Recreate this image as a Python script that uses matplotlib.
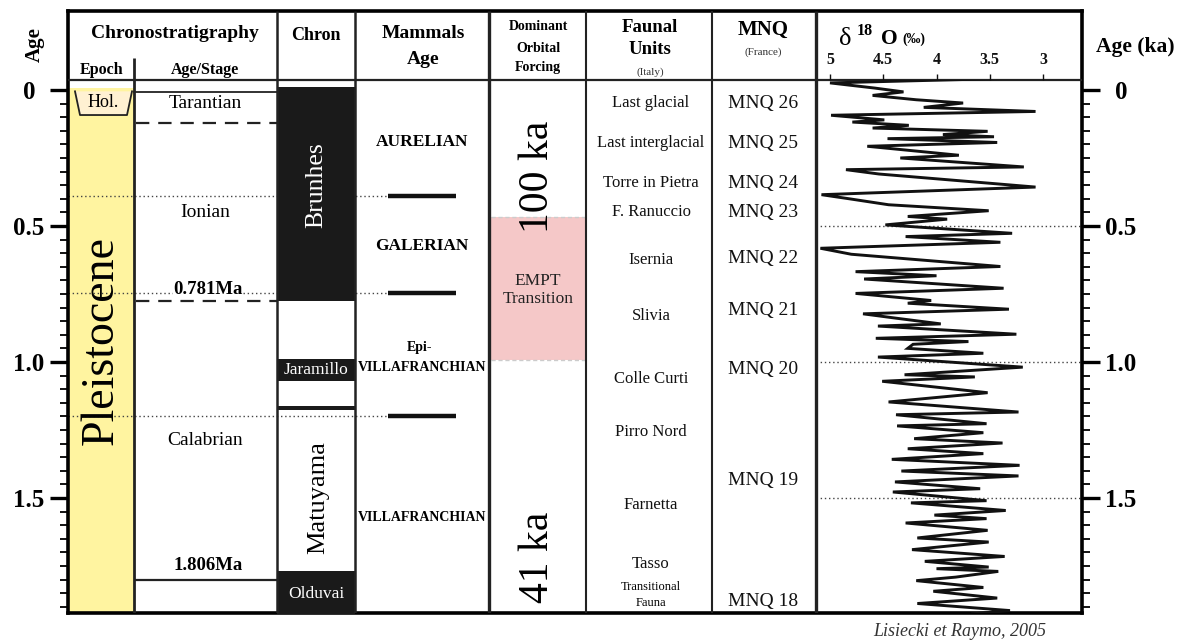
import numpy as np
import matplotlib
matplotlib.use("Agg")
import matplotlib.pyplot as plt
from matplotlib.ticker import FixedLocator, NullLocator

plt.rcParams['font.family'] = ['Liberation Serif', 'DejaVu Serif']

# ---------------- data (ages in Ma) ----------------
age_major = [0.0, 0.5, 1.0, 1.5]
age_major_labels = ["0", "0.5", "1.0", "1.5"]

stage_names = ["Tarantian", "Ionian", "Calabrian"]
stage_label_age = [0.05, 0.45, 1.29]
stage_bounds = [0.12, 0.775, 1.80]
stage_bound_styles = ["dashed", "dashed", "solid"]
bound_labels = ["0.781Ma", "1.806Ma"]
bound_label_age = [0.735, 1.75]

chron_tops = [-0.01, 0.99, 1.163, 1.77]
chron_bases = [0.775, 1.07, 1.175, 1.93]
chron_names = ["Brunhes", "Jaramillo", "Olduvai"]
chron_label_age = [0.35, 1.03, 1.853]
reversed_name = "Matuyama"
reversed_label_age = 1.50

correl_ages = [0.39, 0.745, 1.20]
mammal_names = ["AURELIAN", "GALERIAN", "VILLAFRANCHIAN", "VILLAFRANCHIAN"]
mammal_label_age = [0.19, 0.574, 1.022, 1.57]

empt_top, empt_base = 0.467, 0.993
forcing_names = ["100 ka", "41 ka"]
forcing_label_age = [0.32, 1.717]

faunal_names = ["Last glacial", "Last interglacial", "Torre in Pietra", "F. Ranuccio",
                "Isernia", "Slivia", "Colle Curti", "Pirro Nord", "Farnetta", "Tasso"]
faunal_age = [0.048, 0.195, 0.342, 0.449, 0.625, 0.831, 1.062, 1.257, 1.526, 1.743]

mnq_names = ["MNQ 26", "MNQ 25", "MNQ 24", "MNQ 23", "MNQ 22", "MNQ 21", "MNQ 20", "MNQ 19", "MNQ 18"]
mnq_age = [0.048, 0.195, 0.342, 0.449, 0.618, 0.8125, 1.026, 1.4375, 1.879]

d18o_ticks = [5, 4.5, 4, 3.5, 3]
d18o_tick_labels = ["5", "4.5", "4", "3.5", "3"]

lr04_age = [0.000, 0.018, 0.037, 0.051, 0.064, 0.080, 0.092, 0.108, 0.123, 0.137,
            0.154, 0.162, 0.174, 0.184, 0.196, 0.208, 0.216, 0.223, 0.237, 0.251,
            0.284, 0.294, 0.327, 0.337, 0.353, 0.401, 0.429, 0.444, 0.466, 0.488,
            0.509, 0.519, 0.540, 0.571, 0.583, 0.604, 0.626, 0.648, 0.693, 0.712,
            0.727, 0.739, 0.773, 0.792, 0.818, 0.828, 0.850, 0.867, 0.883, 0.904,
            0.912, 0.942, 0.957, 0.969, 0.979, 0.994, 1.012, 1.026, 1.063, 1.091,
            1.099, 1.115, 1.157, 1.191, 1.228, 1.238, 1.271, 1.279, 1.304, 1.326,
            1.342, 1.363, 1.381, 1.402, 1.424, 1.445, 1.463, 1.485, 1.510, 1.522,
            1.554, 1.562, 1.590, 1.607, 1.620, 1.636, 1.663, 1.691, 1.706, 1.734,
            1.759, 1.777, 1.798, 1.804, 1.814, 1.835, 1.848, 1.873, 1.887, 1.912,
            1.932, 1.958, 1.970]
lr04_d18o = [3.19, 5.00, 4.58, 4.31, 4.60, 4.19, 3.75, 4.12, 3.07, 4.99,
             4.49, 4.79, 4.26, 4.60, 3.52, 3.94, 3.46, 4.46, 3.43, 4.65,
             3.79, 4.34, 3.18, 4.85, 4.54, 3.07, 5.08, 4.82, 4.45, 3.51,
             4.27, 3.90, 4.48, 3.29, 4.29, 3.40, 5.09, 4.80, 3.40, 4.76,
             4.00, 4.68, 3.37, 4.76, 4.05, 4.27, 3.32, 4.69, 4.38, 3.96,
             4.55, 3.25, 4.57, 3.70, 4.22, 4.27, 3.56, 4.55, 3.19, 4.30,
             3.64, 4.51, 3.52, 4.45, 3.23, 4.38, 3.53, 4.37, 3.56, 4.21,
             3.38, 4.27, 3.56, 4.42, 3.22, 4.33, 3.23, 4.39, 3.59, 4.41,
             3.53, 4.24, 3.35, 4.02, 3.53, 4.29, 3.52, 4.18, 3.51, 4.23,
             3.36, 4.11, 3.51, 4.00, 3.42, 3.82, 4.19, 3.56, 4.03, 3.43,
             4.18, 3.31, 3.66]

# ---------------- layout (pixels) ----------------
W, H = 1195, 641
FX0, FX1, FY0, FY1 = 68, 1082, 11, 613
HDR_Y = 80
AGE0_PX, PX_PER_MA = 90.0, 272.0
def age_at(py):
    return (py - AGE0_PX) / PX_PER_MA

C_EPOCH, C_STAGE, C_CHRON, C_MAMM, C_ORB, C_FAUN, C_MNQ, C_D18 = 134, 277, 355, 489, 586, 712, 816, FX1

fig = plt.figure(figsize=(W / 100, H / 100), dpi=100)
ax = fig.add_axes([FX0 / W, 1 - FY1 / H, (FX1 - FX0) / W, (FY1 - FY0) / H])
ax.set_xlim(FX0, FX1)
ax.set_ylim(age_at(FY1), age_at(FY0))
for s in ax.spines.values():
    s.set_linewidth(2.6)
ax.xaxis.set_major_locator(NullLocator())

# age axis ticks (both sides)
ax.yaxis.set_major_locator(FixedLocator(age_major))
ax.set_yticklabels(age_major_labels)
ax.yaxis.set_minor_locator(FixedLocator(np.round(np.arange(0, 1.91, 0.05), 2)))
ax.tick_params(axis='y', which='major', left=True, right=True, labelleft=True, labelright=True,
               length=13, width=2.4, labelsize=18, pad=17, direction='out')
ax.tick_params(axis='y', which='minor', left=True, right=True, length=6, width=1.3, direction='out')
for lab in ax.get_yticklabels():
    lab.set_fontweight('bold')
    lab.set_horizontalalignment('center')
for t in ax.yaxis.get_major_ticks():
    t.label2.set_fontweight('bold')
    t.label2.set_horizontalalignment('center')
    t.label2.set_fontsize(18)
    t.set_pad(15)

bottom = age_at(FY1)
top = age_at(FY0)
hdr = age_at(HDR_Y)

# Epoch column (yellow)
ax.fill_between([FX0, C_EPOCH], -0.008, bottom, color='#FFF4A0', zorder=1, lw=0)
hol_base = 0.092
ax.fill([75, 80, 127, 132], [0.005, hol_base, hol_base, 0.005], color='#FFF1D2', zorder=2, lw=0)
ax.plot([75, 80, 127, 132], [0.005, hol_base, hol_base, 0.005], color='#222', lw=1.3, zorder=3)
ax.text(103, 0.045, "Hol.", ha='center', va='center', fontsize=13, zorder=4)
ax.text(101, 0.92, "Pleistocene", rotation=90, ha='center', va='center', fontsize=33, zorder=4)

# Age / stage column
ax.plot([C_EPOCH, C_STAGE], [0.006, 0.006], color='#222', lw=1.3, zorder=3)
for b, st in zip(stage_bounds, stage_bound_styles):
    ls = (0, (6, 4)) if st == 'dashed' else '-'
    ax.plot([C_EPOCH + 2, C_STAGE], [b, b], color='#222', lw=1.6, ls=ls, zorder=3)
for nm, a in zip(stage_names, stage_label_age):
    ax.text(205, a, nm, ha='center', va='center', fontsize=14, zorder=4)

# correlation dotted lines
for a in correl_ages:
    ax.plot([FX0, 388], [a, a], color='#444', lw=1.0, ls=(0, (1, 2)), zorder=2)
for nm, a in zip(bound_labels, bound_label_age):
    ax.text(208, a, nm, ha='center', va='center', fontsize=13.5, fontweight='bold', zorder=5,
            bbox=dict(facecolor='white', edgecolor='none', pad=0.5) if nm == "0.781Ma" else None)

# Chron column
for t0, b0 in zip(chron_tops, chron_bases):
    ax.fill_between([C_STAGE, C_CHRON], t0, b0, color='#1a1a1a', zorder=3, lw=0)
ax.text(316, chron_label_age[0], chron_names[0], rotation=90, ha='center', va='center',
        color='white', fontsize=18.5, zorder=5)
ax.text(316, chron_label_age[1], chron_names[1], ha='center', va='center',
        color='white', fontsize=12.5, zorder=5)
ax.text(316, chron_label_age[2], chron_names[2], ha='center', va='center',
        color='white', fontsize=12.5, zorder=5)
ax.text(318, reversed_label_age, reversed_name, rotation=90, ha='center', va='center',
        color='black', fontsize=19, zorder=5)

# Mammal ages
for a in correl_ages:
    ax.plot([388, 456], [a, a], color='#111', lw=3.2, solid_capstyle='butt', zorder=4)
mfs = [12.5, 12.5, 10, 10]
for nm, a, fs in zip(mammal_names, mammal_label_age, mfs):
    ax.text(422, a, nm, ha='center', va='center', fontsize=fs, fontweight='bold', zorder=4)
ax.text(420, age_at(348), "Epi-", ha='center', va='center', fontsize=10, fontweight='bold', zorder=4)

# Dominant orbital forcing
ax.fill_between([C_MAMM + 2, C_ORB - 1], empt_top, empt_base, color='#F5C8C8', zorder=1, lw=0)
for a in (empt_top, empt_base):
    ax.plot([C_MAMM + 2, C_ORB - 1], [a, a], color='#cccccc', lw=1.0, ls=(0, (3, 2)), zorder=2)
ax.text(538, 0.735, "EMPT\nTransition", ha='center', va='center', fontsize=12.5,
        linespacing=1.1, color='#222', zorder=4)
for nm, a in zip(forcing_names, forcing_label_age):
    ax.text(538, a, nm, rotation=90, ha='center', va='center', fontsize=30, zorder=4)

# Faunal units
for nm, a in zip(faunal_names, faunal_age):
    ax.text(651, a, nm, ha='center', va='center', fontsize=12, color='#111', zorder=4)
ax.text(651, age_at(587), "Transitional", ha='center', va='center', fontsize=9, zorder=4)
ax.text(651, age_at(603), "Fauna", ha='center', va='center', fontsize=9, zorder=4)

# MNQ
for nm, a in zip(mnq_names, mnq_age):
    ax.text(763, a, nm, ha='center', va='center', fontsize=14, color='#111', zorder=4)

# dotted lines in d18O column
for a in age_major[1:]:
    ax.plot([C_MNQ, FX1], [a, a], color='#444', lw=1.0, ls=(0, (1, 2)), zorder=2)

# column separators
ax.plot([FX0, FX1], [hdr, hdr], color='#222', lw=1.6, zorder=6)
for x, lw, y0 in [(C_EPOCH, 2.0, age_at(58)), (C_STAGE, 1.8, top), (C_CHRON, 1.8, top),
                  (C_MAMM, 2.4, top), (C_ORB, 1.5, top), (C_FAUN, 1.5, top), (C_MNQ, 2.4, top)]:
    ax.plot([x, x], [y0, bottom], color='#222', lw=lw, zorder=6, solid_capstyle='butt')

# header texts
def htext(x, py, s, fs, weight='bold', **kw):
    ax.text(x, age_at(py), s, ha='center', va='center', fontsize=fs, fontweight=weight,
            clip_on=False, **kw)

htext(35, 45, "Age", 15, rotation=90)
htext(175, 34, "Chronostratigraphy", 14)
htext(102, 70, "Epoch", 11.5)
htext(205, 70, "Age/Stage", 11.5)
htext(316, 35, "Chron", 13)
htext(423, 33, "Mammals", 14)
htext(423, 60, "Age", 14)
htext(538, 27, "Dominant", 10)
htext(538, 48, "Orbital", 10)
htext(538, 68, "Forcing", 10)
htext(650, 27, "Faunal", 13.5)
htext(650, 50, "Units", 13.5)
htext(650, 72, "(Italy)", 8, weight='normal', color='#333')
htext(763, 30, "MNQ", 15)
htext(763, 52, "(France)", 8, weight='normal', color='#333')
htext(845, 39, "δ", 19, weight='normal')
htext(865, 31, "18", 11.5)
htext(889, 39, "O", 15.5)
htext(914, 39, "(‰)", 10)
htext(1135, 47, "Age (ka)", 15.5)
ax.text(960, age_at(631), "Lisiecki et Raymo, 2005", ha='center', va='center', fontsize=13,
        style='italic', color='#333', clip_on=False)

# ---------------- d18O panel ----------------
D_X0, D_Y0, D_Y1 = 817, HDR_Y, FY1
V5_PX, PX_PER_PERMIL = 830.0, 106.5
CURVE_AGE0_PX = 78.0
ax2 = fig.add_axes([D_X0 / W, 1 - D_Y1 / H, (FX1 - D_X0) / W, (D_Y1 - D_Y0) / H])
ax2.patch.set_alpha(0)
ax2.set_xlim(5 + (V5_PX - D_X0) / PX_PER_PERMIL, 5 - (FX1 - V5_PX) / PX_PER_PERMIL)
ax2.set_ylim((D_Y1 - CURVE_AGE0_PX) / PX_PER_MA, (D_Y0 - CURVE_AGE0_PX) / PX_PER_MA)
for s in ax2.spines.values():
    s.set_visible(False)
ax2.yaxis.set_major_locator(NullLocator())
ax2.xaxis.set_ticks_position('top')
ax2.xaxis.set_major_locator(FixedLocator(d18o_ticks))
ax2.set_xticklabels(d18o_tick_labels)
ax2.tick_params(axis='x', which='major', direction='out', length=4, width=1.0, pad=5,
                labelsize=11.5, colors='#111')
for lab in ax2.get_xticklabels():
    lab.set_fontweight('bold')
ax2.plot(lr04_d18o, lr04_age, color='#111', lw=2.1, solid_joinstyle='miter', clip_on=True)

fig.savefig("out.png", dpi=100)
